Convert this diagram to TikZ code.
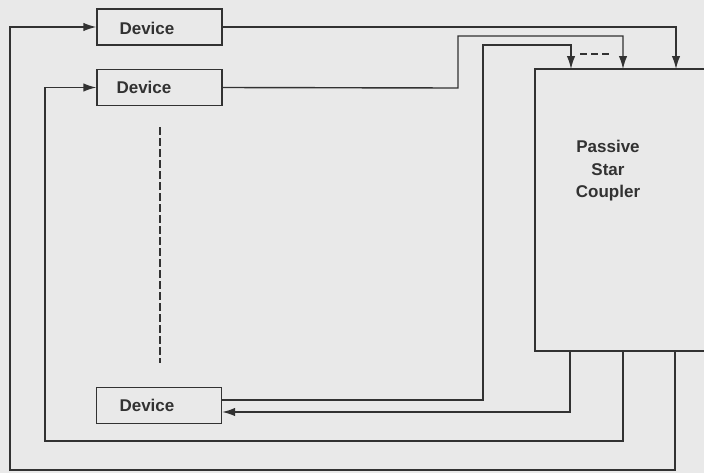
\documentclass[tikz,border=0pt]{standalone}
\usepackage{fontspec}
\setmainfont{Liberation Sans}
\usetikzlibrary{arrows.meta,calc}
\definecolor{bgc}{RGB}{233,233,233}
\definecolor{ink}{RGB}{50,50,50}
\begin{document}
\begin{tikzpicture}[x=1pt,y=-1pt,
  lbl/.style={font=\fontsize{17}{22.5}\selectfont\bfseries, text=ink},
  devbox/.style={draw=ink, line width=1.4pt, minimum width=125pt, minimum height=36pt, inner sep=0pt},
  wire/.style={draw=ink, line width=1.4pt},
  arr/.style={wire, -{Latex[length=13pt,width=8.5pt]}},
]
\useasboundingbox (0,0) rectangle (704,472);
\clip (0,0) rectangle (704,472);
\fill[bgc] (-2,-2) rectangle (706,474);

% nodes
\node[devbox] (d1) at (159.5,27) {};
\node[devbox] (d2) at (159.5,87.5) {};
\node[devbox] (d3) at (159,405.5) {};
\node[lbl, anchor=west] (t1) at (116,28) {Device};
\node[lbl, anchor=west] (t2) at (113,87) {Device};
\node[lbl, anchor=west] (t3) at (116,405) {Device};
\node[draw=ink, line width=1.4pt, minimum width=180pt, minimum height=282pt, inner sep=0pt] (star) at (625,210) {};
\node[lbl, align=center] (sl) at (608,171) {Passive\\Star\\Coupler};

% coupler inputs
\coordinate (in1) at (676,69);
\coordinate (in2) at (623,69);
\coordinate (in3) at (571,69);
\coordinate (b2a) at (458,88);
\coordinate (b2b) at (458,36);
\coordinate (b3a) at (483,400);
\coordinate (b3b) at (483,45);
\draw[arr] (d1.east) -| (in1);
\draw[arr] (d2.east) -- (b2a) -- (b2b) -| (in2);
\draw[arr] ([yshift=5.5pt]d3.east) -- (b3a) -- (b3b) -| (in3);
\coordinate (da) at (580,54);
\coordinate (db) at (612,54);
\draw[wire, dash pattern=on 7pt off 4pt] (da) -- (db);

% coupler outputs
\coordinate (o1) at (570,351);
\coordinate (o2) at (623,351);
\coordinate (o3) at (675,351);
\coordinate (c2a) at (623,441);
\coordinate (c2b) at (45,441);
\coordinate (c3a) at (675,470);
\coordinate (c3b) at (10,470);
\draw[arr] (o1) |- ([yshift=-6.5pt]d3.east);
\draw[arr] (o2) -- (c2a) -- (c2b) |- (d2.west);
\draw[arr] (o3) -- (c3a) -- (c3b) |- (d1.west);

% vertical dashed line
\coordinate (va) at (160,127);
\coordinate (vb) at (160,363);
\draw[wire, dash pattern=on 8pt off 3pt] (va) -- (vb);
\end{tikzpicture}
\end{document}
